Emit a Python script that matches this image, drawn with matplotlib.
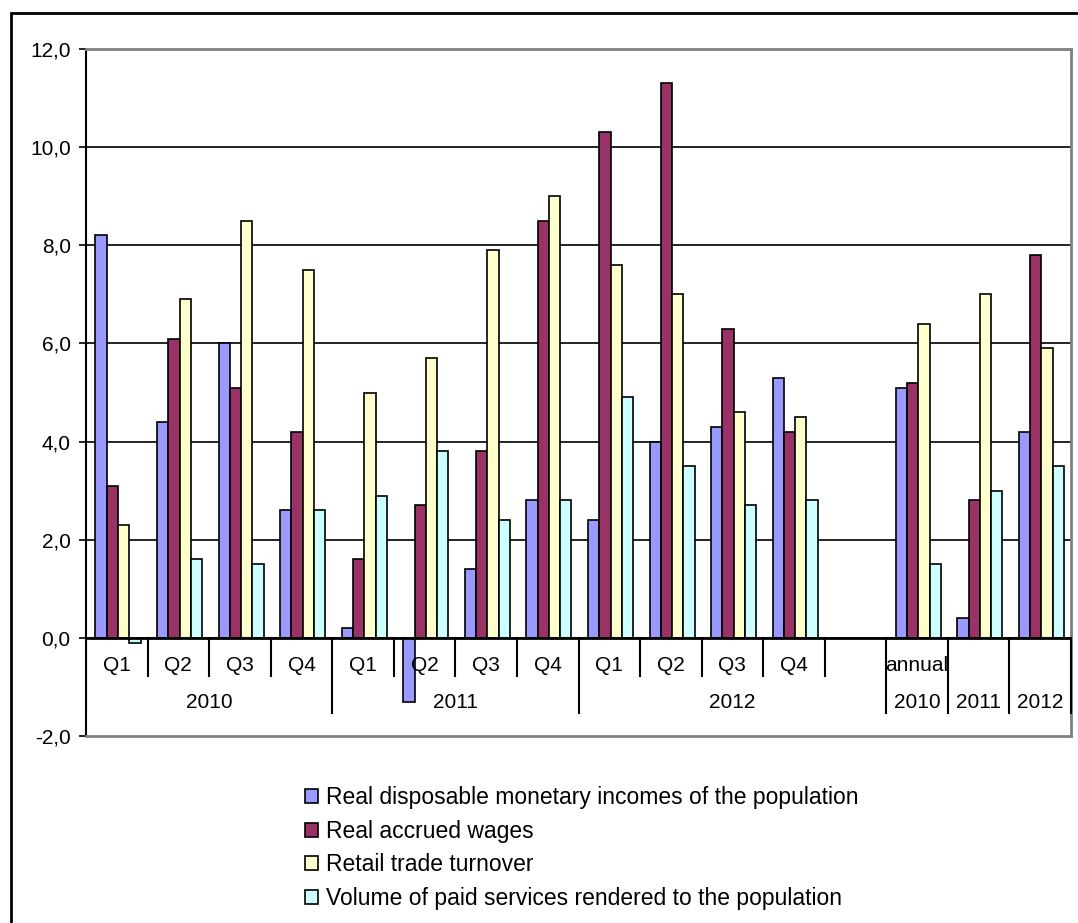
import matplotlib
matplotlib.use("Agg")
import matplotlib.pyplot as plt
from matplotlib.patches import Patch, Rectangle
import numpy as np

plt.rcParams['font.family'] = ['Liberation Sans', 'DejaVu Sans']

# ---- data ----
quarter_labels = ["Q1", "Q2", "Q3", "Q4"] * 3 + ["", "annual", "", ""]
group_labels = ["2010", "2011", "2012", "2010", "2011", "2012"]
group_spans = [4, 4, 5, 1, 1, 1]   # number of slots in each lower-level group

series_names = [
    "Real disposable monetary incomes of the population",
    "Real accrued wages",
    "Retail trade turnover",
    "Volume of paid services rendered to the population",
]
incomes  = [8.2, 4.4, 6.0, 2.6, 0.2, -1.3, 1.4, 2.8, 2.4, 4.0, 4.3, 5.3, np.nan, 5.1, 0.4, 4.2]
wages    = [3.1, 6.1, 5.1, 4.2, 1.6, 2.7, 3.8, 8.5, 10.3, 11.3, 6.3, 4.2, np.nan, 5.2, 2.8, 7.8]
retail   = [2.3, 6.9, 8.5, 7.5, 5.0, 5.7, 7.9, 9.0, 7.6, 7.0, 4.6, 4.5, np.nan, 6.4, 7.0, 5.9]
services = [-0.1, 1.6, 1.5, 2.6, 2.9, 3.8, 2.4, 2.8, 4.9, 3.5, 2.7, 2.8, np.nan, 1.5, 3.0, 3.5]
series = [incomes, wages, retail, services]
colors = ["#9999FF", "#993366", "#FFFFCC", "#CCFFFF"]

W, H = 1078, 923
fig = plt.figure(figsize=(W / 100, H / 100), dpi=100)
fig.patch.set_facecolor("white")

# outer chart border
fig.patches.append(Rectangle((11 / W, -0.02), 1.05, 1 - 13 / H + 0.02,
                             transform=fig.transFigure, fill=False,
                             edgecolor="black", linewidth=2, zorder=0))

left, right, top, bottom = 86, 1071, 49, 736
ax = fig.add_axes([left / W, 1 - bottom / H, (right - left) / W, (bottom - top) / H])
px = (bottom - top) / 14.0   # pixels per data unit

n = len(quarter_labels)
x = np.arange(n) + 0.5
bw = 0.183
for k, (vals, c) in enumerate(zip(series, colors)):
    ax.bar(x + (k - 1.5) * bw + 0.02, vals, width=bw, color=c,
           edgecolor="black", linewidth=1.2, zorder=3)

ax.set_xlim(0, n)
ax.set_ylim(-2, 12)
yt = np.arange(-2, 12.1, 2)
ax.set_yticks(yt)
ax.set_yticklabels([f"{v:.1f}".replace(".", ",") for v in yt], fontsize=15)
ax.tick_params(axis="y", direction="out", length=5, width=1.2, pad=6, colors="black")
ax.set_xticks([])

for v in np.arange(0, 11, 2):
    ax.axhline(v, color="black", linewidth=1.2, zorder=1)
ax.axhline(0, color="black", linewidth=2, zorder=4)

for s in ["top", "right", "bottom"]:
    ax.spines[s].set_color("#808080")
    ax.spines[s].set_linewidth(2)
ax.spines["left"].set_color("black")
ax.spines["left"].set_linewidth(1.5)

# multi-level category axis drawn inside the negative region
short_len = 38 / px
long_len = 75 / px
group_edges = np.concatenate([[0], np.cumsum(group_spans)])
for b in range(1, n + 1):
    ln = long_len if b in group_edges else short_len
    ax.plot([b, b], [0, -ln], color="black", linewidth=1.5, zorder=4, clip_on=False)
ax.plot([0, 0], [0, -long_len], color="black", linewidth=1.5, zorder=4)

for xi, lab in zip(x, quarter_labels):
    if lab:
        ax.text(xi, -28 / px, lab, ha="center", va="center", fontsize=15, zorder=5)
for i, lab in enumerate(group_labels):
    cx = (group_edges[i] + group_edges[i + 1]) / 2
    ax.text(cx, -65 / px, lab, ha="center", va="center", fontsize=15, zorder=5)

handles = [Patch(facecolor=c, edgecolor="black", linewidth=1.2) for c in colors]
fig.legend(handles, series_names, loc="upper left",
           bbox_to_anchor=(296 / W, 1 - 777 / H), frameon=False, fontsize=16.5,
           handlelength=0.55, handleheight=0.55, handletextpad=0.35, labelspacing=0.46,
           borderaxespad=0)

fig.savefig("out.png", dpi=100)
